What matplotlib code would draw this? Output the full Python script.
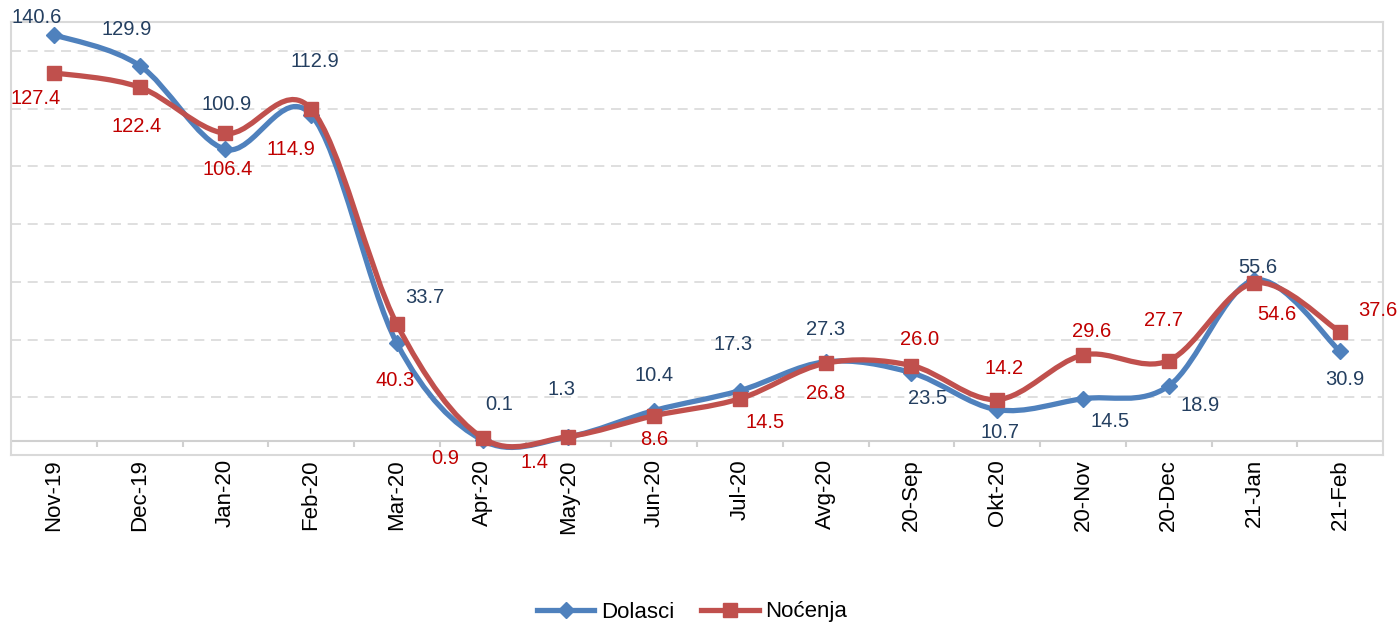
import matplotlib
matplotlib.use("Agg")
import matplotlib.pyplot as plt
from matplotlib.path import Path
from matplotlib.patches import PathPatch
from matplotlib.lines import Line2D
import numpy as np

plt.rcParams['font.family'] = ['Liberation Sans', 'DejaVu Sans']

categories = ["Nov-19", "Dec-19", "Jan-20", "Feb-20", "Mar-20", "Apr-20", "May-20",
              "Jun-20", "Jul-20", "Avg-20", "20-Sep", "Okt-20", "20-Nov", "20-Dec",
              "21-Jan", "21-Feb"]
dolasci = [140.6, 129.9, 100.9, 112.9, 33.7, 0.1, 1.3, 10.4, 17.3, 27.3, 23.5, 10.7,
           14.5, 18.9, 55.6, 30.9]
nocenja = [127.4, 122.4, 106.4, 114.9, 40.3, 0.9, 1.4, 8.6, 14.5, 26.8, 26.0, 14.2,
           29.6, 27.7, 54.6, 37.6]

# label offsets in pixels (dx, dy up positive)
dol_off = [(-17, 17), (-13, 36), (1, 45), (4, 53), (28, 46), (17, 36), (-7, 47), (0, 35),
           (-7, 46), (0, 32), (16, -26), (3, -23), (27, -23), (31, -19), (3, 13), (5, -28)]
noc_off = [(-18, -26), (-3, -39), (2, -36), (-20, -41), (-2, -56), (-37, -21), (-34, -26),
           (0, -24), (25, -24), (0, -30), (8, 26), (7, 31), (9, 24), (-5, 40), (22, -32),
           (38, 22)]

BLUE = '#4F81BD'
RED = '#C0504D'
BLUE_TXT = '#243F60'
RED_TXT = '#C00000'

W, H = 1400, 622
fig = plt.figure(figsize=(W / 100, H / 100), dpi=100)
ax = fig.add_axes([11 / W, (H - 455) / H, (1383 - 11) / W, (455 - 22) / H])

n = len(categories)
x = np.arange(n)
ax.set_xlim(-0.5, n - 0.5)
ax.set_ylim(-5, 145)


def smooth_path(xs, ys):
    pts = np.column_stack([xs, ys]).astype(float)
    verts = [pts[0]]
    codes = [Path.MOVETO]
    m = len(pts)
    for i in range(m - 1):
        p0 = pts[i - 1] if i > 0 else pts[i]
        p1 = pts[i]
        p2 = pts[i + 1]
        p3 = pts[i + 2] if i + 2 < m else pts[i + 1]
        c1 = p1 + (p2 - p0) / 6.0
        c2 = p2 - (p3 - p1) / 6.0
        verts += [c1, c2, p2]
        codes += [Path.CURVE4] * 3
    return Path(verts, codes)


# gridlines
for gy in np.arange(15, 145, 20):
    ax.axhline(gy, color='#D9D9D9', lw=1.2, ls=(0, (6, 4)), zorder=0)

# horizontal axis at 0 with tick marks at category boundaries
ax.axhline(0, color='#D0D0D0', lw=1.5, zorder=1)
ax.vlines(np.arange(-0.5, n, 1.0), -2.2, 0, color='#D0D0D0', lw=1.5, zorder=1)

for vals, col, mk, ms, z in [(dolasci, BLUE, 'D', 8.5, 3), (nocenja, RED, 's', 10, 4)]:
    patch = PathPatch(smooth_path(x, vals), facecolor='none', edgecolor=col, lw=3.8,
                      capstyle='round', joinstyle='round', zorder=z)
    ax.add_patch(patch)
    ax.plot(x, vals, ls='none', marker=mk, ms=ms, color=col, zorder=z + 0.5)

for xi, v, off in zip(x, dolasci, dol_off):
    ax.annotate(f"{v:.1f}", (xi, v), xytext=(off[0] * 0.72, off[1] * 0.72),
                textcoords='offset points', ha='center', va='center',
                color=BLUE_TXT, fontsize=14.5, zorder=6, annotation_clip=False)
for xi, v, off in zip(x, nocenja, noc_off):
    ax.annotate(f"{v:.1f}", (xi, v), xytext=(off[0] * 0.72, off[1] * 0.72),
                textcoords='offset points', ha='center', va='center',
                color=RED_TXT, fontsize=14.5, zorder=6, annotation_clip=False)

ax.set_xticks(x)
ax.set_xticklabels(categories, rotation=90, fontsize=16, color='black')
ax.tick_params(axis='x', length=0, pad=3)
ax.set_yticks([])
for s in ax.spines.values():
    s.set_color('#D9D9D9')
    s.set_linewidth(1.5)

handles = [Line2D([], [], color=BLUE, lw=3.8, marker='D', ms=8.5),
           Line2D([], [], color=RED, lw=3.8, marker='s', ms=10)]
fig.legend(handles, ["Dolasci", "Noćenja"], loc='center',
           bbox_to_anchor=(692 / W, 1 - 612 / H), ncol=2, frameon=False,
           fontsize=16, handlelength=2.6, handletextpad=0.3, columnspacing=1.2,
           borderpad=0)

fig.savefig("out.png", dpi=100)
